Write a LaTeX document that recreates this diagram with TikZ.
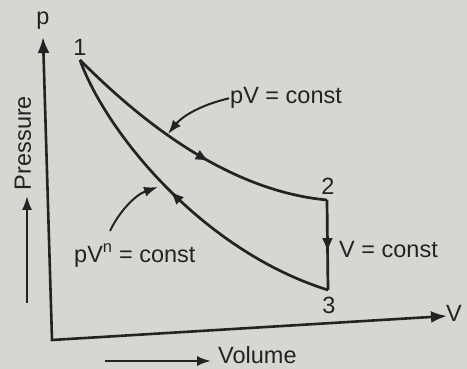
\documentclass[tikz,border=0pt]{standalone}
\usepackage{fontspec}
\setmainfont{Liberation Sans}
\usetikzlibrary{arrows.meta,decorations.markings}
\definecolor{bg}{RGB}{213,215,211}
\definecolor{ink}{RGB}{35,35,35}
\begin{document}
\begin{tikzpicture}[x=1pt,y=-1pt,
  curve/.style={draw=ink,line width=2.7pt},
  leader/.style={draw=ink,line width=2pt,-{Latex[length=14pt,width=10pt]}},
  axis/.style={draw=ink,line width=2.6pt,line join=miter,{Latex[length=16pt,width=12pt]}-{Latex[length=16pt,width=12pt]}},
  lbl/.style={text=ink,inner sep=0pt,font=\fontsize{23.5}{27}\selectfont},
  midarrow/.style={postaction={decorate},decoration={markings,mark=at position #1 with {\arrow{Latex[length=14pt,width=11pt]}}}}
]
\fill[bg] (0,0) rectangle (467,369);
\useasboundingbox (0,0) rectangle (467,369);

% axes
\coordinate (o) at (52,340);
\coordinate (ptip) at (43,37);
\coordinate (vtip) at (447,316);
\draw[axis] (ptip) -- (o) -- (vtip);
\node[lbl,anchor=base] (plab) at (43,25) {p};
\node[lbl,anchor=base west] (vlab) at (446,322) {V};

% state points
\coordinate (p1) at (80,60);
\coordinate (p2) at (327,200);
\coordinate (p3) at (328,290);
\node[lbl,anchor=base] (n1) at (80,56) {1};
\node[lbl,anchor=base] (n2) at (328,195) {2};
\node[lbl,anchor=base] (n3) at (329,313) {3};

% process curves
\draw[curve,midarrow=0.57] (p1) .. controls (130,110) and (220,190) .. (p2);
\draw[curve,midarrow=0.58] (p2) -- (p3);
\draw[curve,midarrow=0.54] (p3) .. controls (200,250) and (105,130) .. (p1);

% labels with leaders
\node[lbl,anchor=base west] (lpv) at (230,104) {pV = const};
\coordinate (t1) at (168,134);
\draw[leader] ([xshift=-1pt]lpv.west) .. controls (196,106) and (180,119) .. (t1);

\node[lbl,anchor=base west] (lpvn) at (74,262) {pV$^{\mathrm{n}}$ = const};
\coordinate (t2) at (158,187);
\draw[leader] (110,231) .. controls (119,212) and (135,195) .. (t2);

\node[lbl,anchor=base west] (lv) at (339,258) {V = const};

% axis titles
\node[lbl,rotate=90] (pres) at (23,143) {Pressure};
\coordinate (pa0) at (27,303);
\coordinate (pa1) at (27,196);
\draw[leader] (pa0) -- (pa1);

\node[lbl,anchor=base west] (vol) at (218,363) {Volume};
\coordinate (va0) at (105,361);
\draw[leader] (va0) -- ([xshift=-7pt]vol.west |- va0);
\end{tikzpicture}
\end{document}
